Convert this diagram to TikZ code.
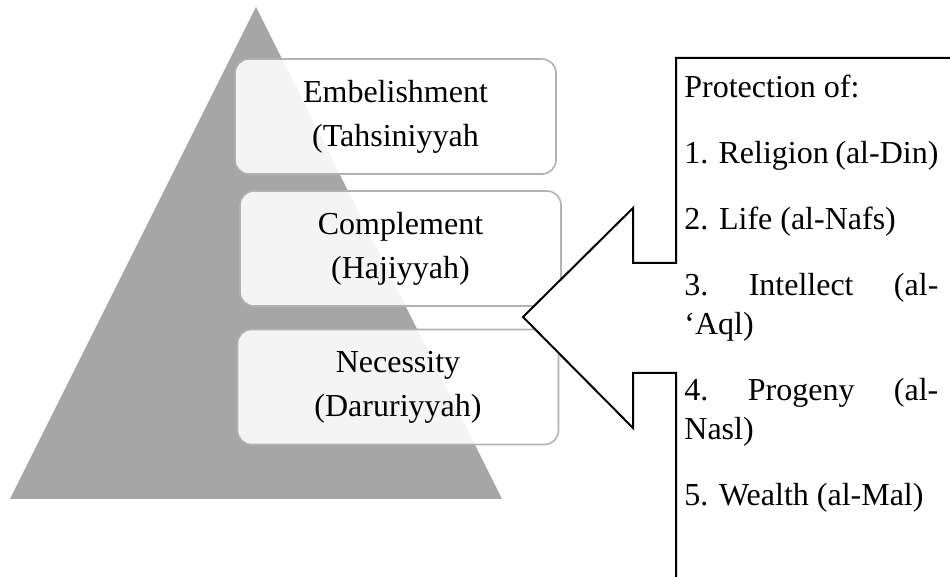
\documentclass[tikz,border=0pt]{standalone}
\usepackage{fontspec}
\setmainfont{Liberation Serif}
\definecolor{pyramidgray}{RGB}{166,166,166}
\definecolor{levelborder}{RGB}{178,178,178}

\begin{document}
\begin{tikzpicture}[
    x=0.5pt, y=-0.5pt, % one unit = one pixel of the layout, y downwards
    % Styles
    levelbox/.style={
        rectangle,
        rounded corners=7pt,
        draw=levelborder,
        line width=0.8pt,
        fill=white,
        fill opacity=0.88,
        text opacity=1,
        minimum width=160.5pt,
        minimum height=57.5pt,
        align=center,
        font=\fontsize{16}{22}\selectfont
    },
    callout/.style={
        draw=black,
        line width=1pt,
        fill=white
    },
    listtext/.style={
        text width=127pt,
        align=justify,
        inner sep=0pt,
        font=\fontsize{16}{19.5}\selectfont
    }
]

\useasboundingbox (0,0) rectangle (950,577);
\clip (0,0) rectangle (950,577);

% --- Pyramid ---
\fill[pyramidgray] (256,7) -- (502,499) -- (10,499) -- cycle;

% --- Levels (top to bottom) ---
\node (tahsini) [levelbox] at (395.5,116.5) {Embelishment\\(Tahsiniyyah};
\node (hajiyyah) [levelbox] at (400.5,248.5) {Complement\\(Hajiyyah)};
\node (daruri) [levelbox] at (398,387) {Necessity\\(Daruriyyah)};

% --- Arrow callout pointing at the levels ---
\draw[callout] (676,58) -- (676,263) -- (633,263) -- (633,208) -- (523,317)
    -- (633,428) -- (633,373) -- (676,373) -- (676,590) -- (960,590)
    -- (960,58) -- cycle;

% --- Callout text ---
\node (protection) [listtext, anchor=base west] at (684,97.5) {%
    Protection of:\\[13.5pt]
    1. Religion (al-Din)\\[13.5pt]
    2. Life (al-Nafs)\\[13.5pt]
    3.\hfill Intellect\hfill (al-\\
    ‘Aql)\\[13.5pt]
    4.\hfill Progeny\hfill (al-\\
    Nasl)\\[13.5pt]
    5. Wealth (al-Mal)};

\end{tikzpicture}
\end{document}
